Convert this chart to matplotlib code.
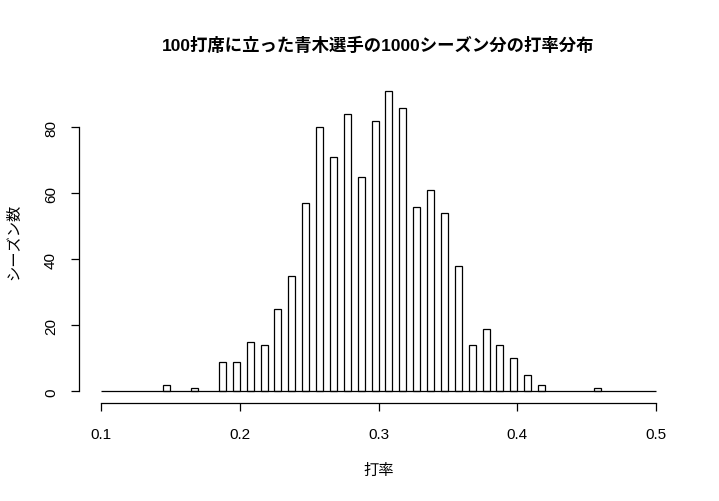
import matplotlib.pyplot as plt

plt.rcParams['font.family'] = ['Liberation Sans', 'Noto Sans CJK JP', 'DejaVu Sans']

# batting average (hits / 100) and number of seasons
avg = [0.15, 0.17, 0.19, 0.20, 0.21, 0.22, 0.23, 0.24, 0.25, 0.26, 0.27, 0.28,
       0.29, 0.30, 0.31, 0.32, 0.33, 0.34, 0.35, 0.36, 0.37, 0.38, 0.39, 0.40,
       0.41, 0.42, 0.46]
seasons = [2, 1, 9, 9, 15, 14, 25, 35, 57, 80, 71, 84,
           65, 82, 91, 86, 56, 61, 54, 38, 14, 19, 14, 10,
           5, 2, 1]
xticks = [0.1, 0.2, 0.3, 0.4, 0.5]
yticks = [0, 20, 40, 60, 80]

fig = plt.figure(figsize=(7.19, 5.02), dpi=100)
ax = fig.add_axes([0.1096, 0.1946, 0.8337, 0.646])

ax.bar(avg, seasons, width=-0.005, align='edge', color='white',
       edgecolor='black', linewidth=0.9)
ax.hlines(0, 0.1, 0.5, color='black', linewidth=0.9)

ax.set_xlim(0.084, 0.516)
ax.set_ylim(-3.64, 94.64)

for s in ['top', 'right']:
    ax.spines[s].set_visible(False)
ax.spines['left'].set_bounds(0, 80)
ax.spines['bottom'].set_bounds(0.1, 0.5)
for s in ['left', 'bottom']:
    ax.spines[s].set_linewidth(0.9)

ax.set_xticks(xticks)
ax.set_xticklabels([str(t) for t in xticks])
ax.set_yticks(yticks)
ax.set_yticklabels([str(t) for t in yticks], rotation=90, va='center')
ax.tick_params(axis='both', length=6, width=0.9, labelsize=11)
ax.tick_params(axis='x', pad=11)
ax.tick_params(axis='y', pad=9)

ax.set_xlabel('打率', fontsize=11, labelpad=16)
ax.set_ylabel('シーズン数', fontsize=11, labelpad=16)
ax.set_title('100打席に立った青木選手の1000シーズン分の打率分布',
             fontsize=12.5, fontweight='bold', pad=21)

fig.savefig('out.png', dpi=100)
